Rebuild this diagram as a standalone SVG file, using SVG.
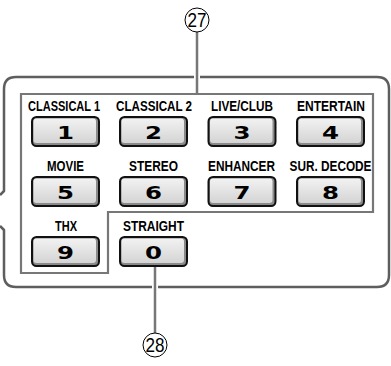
<svg xmlns="http://www.w3.org/2000/svg" width="391" height="366" viewBox="0 0 391 366">
<style>
.frame{fill:none;stroke:#5e5e5e;stroke-width:2.5;stroke-linejoin:round}
.panel{fill:none;stroke:#777;stroke-width:2.2}
.lead{fill:none;stroke:#777;stroke-width:2.5}
.halo{fill:none;stroke:#fff;stroke-width:6}
.btn{fill:#8a8a8a;stroke:#111;stroke-width:2}
.face{fill:url(#g)}
.lbl{font-family:"Liberation Sans",Arial,sans-serif;font-weight:bold;font-size:11px;fill:#000;text-anchor:middle}
.num{font-family:"DejaVu Sans",sans-serif;font-weight:bold;font-size:18.5px;fill:#000;text-anchor:middle}
.cnum{font-family:"Liberation Sans",Arial,sans-serif;font-size:20px;fill:#000;text-anchor:middle}
.circ{fill:#fff;stroke:#000;stroke-width:1}
</style>
<defs>
<linearGradient id="g" x1="0" y1="0" x2="0" y2="1">
<stop offset="0" stop-color="#f2f2f2"/>
<stop offset="1" stop-color="#d4d4d4"/>
</linearGradient>
</defs>
<g id="frame">
<path class="frame" d="M0,195 L4,191 L4,89 Q4,77 16,77 L377,77 Q389,77 389,89 L389,275 Q389,287 377,287 L16,287 Q4,287 4,275 L4,230 L0,226"/>
<path class="panel" d="M21,94 L373,94 L373,212 L108,212 L108,273 L21,273 Z"/>
</g>
<g id="connectors">
<line class="halo" x1="197" y1="33" x2="197" y2="92"/>
<line class="lead" x1="197" y1="32" x2="197" y2="94"/>
<line class="halo" x1="155" y1="269" x2="155" y2="331"/>
<line class="lead" x1="155" y1="267" x2="155" y2="333"/>
</g>
<g id="callout27">
<circle class="circ" cx="197" cy="20" r="12"/>
<text class="cnum" x="197" y="27" textLength="19" lengthAdjust="spacingAndGlyphs">27</text>
</g>
<g id="callout28">
<circle class="circ" cx="155" cy="345" r="12"/>
<text class="cnum" x="155" y="352" textLength="19" lengthAdjust="spacingAndGlyphs">28</text>
</g>
<g id="btn1">
<text class="lbl" transform="translate(64,111) scale(1,1.36)" textLength="72" lengthAdjust="spacingAndGlyphs">CLASSICAL 1</text>
<rect class="btn" x="32" y="117" width="67" height="29" rx="4.5"/>
<rect class="face" x="33.5" y="118.5" width="62.5" height="24.5" rx="3"/>
<text class="num" x="65.5" y="138.5" textLength="17" lengthAdjust="spacingAndGlyphs">1</text>
</g>
<g id="btn2">
<text class="lbl" transform="translate(154,111) scale(1,1.36)" textLength="76" lengthAdjust="spacingAndGlyphs">CLASSICAL 2</text>
<rect class="btn" x="120" y="117" width="67" height="29" rx="4.5"/>
<rect class="face" x="121.5" y="118.5" width="62.5" height="24.5" rx="3"/>
<text class="num" x="153.5" y="138.5" textLength="17" lengthAdjust="spacingAndGlyphs">2</text>
</g>
<g id="btn3">
<text class="lbl" transform="translate(242,111) scale(1,1.36)" textLength="62" lengthAdjust="spacingAndGlyphs">LIVE/CLUB</text>
<rect class="btn" x="208.5" y="117" width="67" height="29" rx="4.5"/>
<rect class="face" x="210" y="118.5" width="62.5" height="24.5" rx="3"/>
<text class="num" x="242" y="138.5" textLength="17" lengthAdjust="spacingAndGlyphs">3</text>
</g>
<g id="btn4">
<text class="lbl" transform="translate(331,111) scale(1,1.36)" textLength="68" lengthAdjust="spacingAndGlyphs">ENTERTAIN</text>
<rect class="btn" x="297" y="117" width="67" height="29" rx="4.5"/>
<rect class="face" x="298.5" y="118.5" width="62.5" height="24.5" rx="3"/>
<text class="num" x="330.5" y="138.5" textLength="17" lengthAdjust="spacingAndGlyphs">4</text>
</g>
<g id="btn5">
<text class="lbl" transform="translate(65.5,171) scale(1,1.36)" textLength="37" lengthAdjust="spacingAndGlyphs">MOVIE</text>
<rect class="btn" x="32" y="177" width="67" height="29" rx="4.5"/>
<rect class="face" x="33.5" y="178.5" width="62.5" height="24.5" rx="3"/>
<text class="num" x="65.5" y="198.5" textLength="17" lengthAdjust="spacingAndGlyphs">5</text>
</g>
<g id="btn6">
<text class="lbl" transform="translate(153.5,171) scale(1,1.36)" textLength="49" lengthAdjust="spacingAndGlyphs">STEREO</text>
<rect class="btn" x="120" y="177" width="67" height="29" rx="4.5"/>
<rect class="face" x="121.5" y="178.5" width="62.5" height="24.5" rx="3"/>
<text class="num" x="153.5" y="198.5" textLength="17" lengthAdjust="spacingAndGlyphs">6</text>
</g>
<g id="btn7">
<text class="lbl" transform="translate(241.5,171) scale(1,1.36)" textLength="67" lengthAdjust="spacingAndGlyphs">ENHANCER</text>
<rect class="btn" x="208.5" y="177" width="67" height="29" rx="4.5"/>
<rect class="face" x="210" y="178.5" width="62.5" height="24.5" rx="3"/>
<text class="num" x="242" y="198.5" textLength="17" lengthAdjust="spacingAndGlyphs">7</text>
</g>
<g id="btn8">
<text class="lbl" transform="translate(330.5,171) scale(1,1.36)" textLength="82" lengthAdjust="spacingAndGlyphs">SUR. DECODE</text>
<rect class="btn" x="297" y="177" width="67" height="29" rx="4.5"/>
<rect class="face" x="298.5" y="178.5" width="62.5" height="24.5" rx="3"/>
<text class="num" x="330.5" y="198.5" textLength="17" lengthAdjust="spacingAndGlyphs">8</text>
</g>
<g id="btn9">
<text class="lbl" transform="translate(66,231) scale(1,1.36)" textLength="22" lengthAdjust="spacingAndGlyphs">THX</text>
<rect class="btn" x="32" y="237" width="67" height="29" rx="4.5"/>
<rect class="face" x="33.5" y="238.5" width="62.5" height="24.5" rx="3"/>
<text class="num" x="65.5" y="258.5" textLength="17" lengthAdjust="spacingAndGlyphs">9</text>
</g>
<g id="btn0">
<text class="lbl" transform="translate(153.5,231) scale(1,1.36)" textLength="61" lengthAdjust="spacingAndGlyphs">STRAIGHT</text>
<rect class="btn" x="120" y="237" width="67" height="29" rx="4.5"/>
<rect class="face" x="121.5" y="238.5" width="62.5" height="24.5" rx="3"/>
<text class="num" x="153.5" y="258.5" textLength="17" lengthAdjust="spacingAndGlyphs">0</text>
</g>
</svg>
